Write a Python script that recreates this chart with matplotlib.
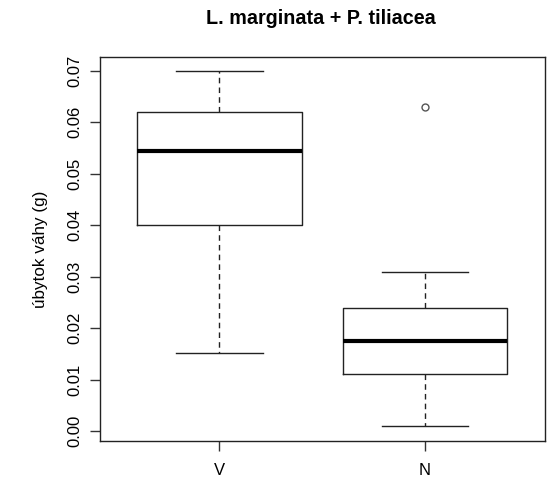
import matplotlib
matplotlib.use("Agg")
import matplotlib.pyplot as plt

categories = ["V", "N"]
# five-number summaries: lower whisker, Q1, median, Q3, upper whisker
whislo = [0.0152, 0.0010]
q1 = [0.0401, 0.0111]
med = [0.0545, 0.0175]
q3 = [0.0620, 0.0240]
whishi = [0.0700, 0.0309]
outliers = [[], [0.0630]]
yticks = [0.00, 0.01, 0.02, 0.03, 0.04, 0.05, 0.06, 0.07]

plt.rcParams['font.family'] = ['Liberation Sans', 'DejaVu Sans']

fig = plt.figure(figsize=(5.48, 4.82), dpi=100)
ax = fig.add_axes([100/548, 41/482, 445/548, 384/482])

stats = []
for i, c in enumerate(categories):
    stats.append(dict(label=c, whislo=whislo[i], q1=q1[i], med=med[i],
                      q3=q3[i], whishi=whishi[i], fliers=outliers[i]))

lc = '#222222'
ax.bxp(stats, positions=[1, 2], widths=0.8, showfliers=True,
       boxprops=dict(color=lc, linewidth=1.0),
       whiskerprops=dict(color=lc, linewidth=1.0, linestyle=(0, (4, 3))),
       capprops=dict(color=lc, linewidth=1.0),
       medianprops=dict(color='black', linewidth=3.0, solid_capstyle='butt'),
       flierprops=dict(marker='o', markersize=5, markerfacecolor='none',
                       markeredgecolor='#555555', markeredgewidth=1.0),
       capwidths=0.42)

ax.set_xlim(0.42, 2.583)
ax.set_ylim(-0.00194, 0.0727)
ax.set_yticks(yticks)
ax.set_yticklabels([f"{t:.2f}" for t in yticks], rotation=90, va='center', fontsize=12)
ax.set_xticks([1, 2])
ax.set_xticklabels(categories, fontsize=12)
ax.tick_params(axis='y', length=7, width=1, color='#333333', pad=6)
ax.tick_params(axis='x', length=7, width=1, color='#333333', pad=9)
for s in ax.spines.values():
    s.set_linewidth(1.0)
    s.set_color('#222222')
ax.set_ylabel("úbytok váhy (g)", fontsize=12.3, labelpad=14)
fig.text(321/548, 1 - 18/482, "L. marginata + P. tiliacea", ha='center', va='center',
         fontsize=14.2, fontweight='bold')

fig.savefig("out.png", dpi=100)
